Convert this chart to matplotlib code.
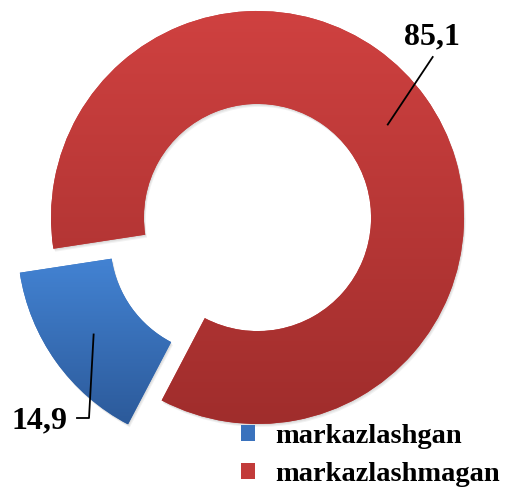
import numpy as np
import matplotlib.pyplot as plt
from matplotlib.colors import LinearSegmentedColormap
from matplotlib.patches import PathPatch
from matplotlib.transforms import Affine2D

labels = ['markazlashgan', 'markazlashmagan']
values = [14.9, 85.1]
value_text = ['14,9', '85,1']
top_colors = ['#4383d3', '#cf4140']
bottom_colors = ['#2c5a9a', '#a02d2c']
legend_colors = ['#3a72bd', '#c23b3a']
explode = [0.2, 0.0]

W, H = 509, 492
R = 206.5
cx, cy = 257.5, 217.5


def px(x, y):
    # pixel position (from top left) -> data coords of the pie
    return (x - cx) / R, (cy - y) / R


fig = plt.figure(figsize=(W / 100, H / 100), dpi=100)
ax = fig.add_axes([0, 0, 1, 1])

wedges, _ = ax.pie(values, startangle=188.7, explode=explode, radius=1,
                   colors=legend_colors,
                   wedgeprops=dict(width=0.45, linewidth=0, zorder=2))

# soft shadow under the slices
for w in wedges:
    for k in range(1, 4):
        off = Affine2D().translate(0.6 * k / R, -1.0 * k / R)
        sh = PathPatch(off.transform_path(w.get_path()), facecolor='black',
                       edgecolor='none', alpha=0.05, zorder=1)
        ax.add_patch(sh)

# vertical gradient in each slice
for w, c0, c1 in zip(wedges, top_colors, bottom_colors):
    ext = w.get_path().get_extents()
    cmap = LinearSegmentedColormap.from_list('g', [c0, c1])
    grad = np.linspace(0, 1, 256).reshape(-1, 1)
    im = ax.imshow(grad, cmap=cmap, extent=[ext.x0, ext.x1, ext.y0, ext.y1],
                   origin='upper', aspect='auto', zorder=3)
    im.set_clip_path(w)

font = dict(family='Liberation Serif', weight='bold')

# value labels with leader lines
for i, w in enumerate(wedges):
    mid = np.deg2rad((w.theta1 + w.theta2) / 2)
    r_mid = 1 - 0.45 / 2
    x0 = w.center[0] + r_mid * np.cos(mid)
    y0 = w.center[1] + r_mid * np.sin(mid)
    if i == 0:
        xe, ye = px(89, 418)
        xh, yh = px(77, 418)
        ax.plot([x0, xe, xh], [y0, ye, yh], color='black', lw=1.3, zorder=5)
        tx, ty = px(68, 421)
        ax.text(tx, ty, value_text[i], ha='right', va='center', fontsize=23, **font)
    else:
        xe, ye = px(432.7, 57)
        ax.plot([x0, xe], [y0, ye], color='black', lw=1.3, zorder=5)
        tx, ty = px(432, 37)
        ax.text(tx, ty, value_text[i], ha='center', va='center', fontsize=23, **font)

ax.legend(wedges, labels, loc='upper left', bbox_to_anchor=(241 / W, 1 - 424 / H),
          bbox_transform=fig.transFigure, frameon=False, borderpad=0, borderaxespad=0,
          handlelength=0.5, handleheight=0.5, handletextpad=0.7, labelspacing=0.45,
          prop=dict(family='Liberation Serif', weight='bold', size=20.5))

ax.set_xlim(-cx / R, (W - cx) / R)
ax.set_ylim(-(H - cy) / R, cy / R)
ax.set_aspect('equal')
ax.axis('off')

fig.savefig('out.png', dpi=100)
